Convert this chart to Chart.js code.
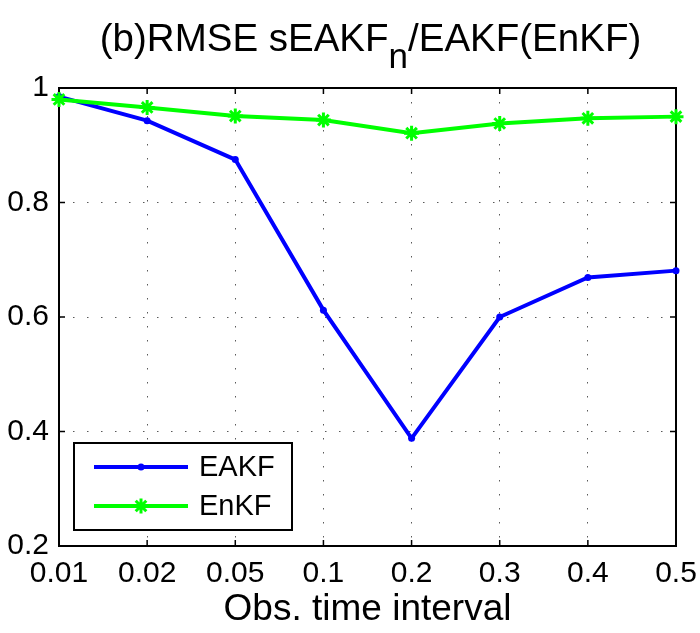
<!DOCTYPE html>
<html><head><meta charset="utf-8">
<script src="https://cdn.jsdelivr.net/npm/chart.js@4/dist/chart.umd.min.js"></script>
<style>html,body{margin:0;padding:0;background:#fff}#wrap{width:700px;height:633px}</style>
</head><body><div id="wrap"><canvas id="c" width="700" height="633"></canvas></div>
<script>
const categories = ['0.01','0.02','0.05','0.1','0.2','0.3','0.4','0.5'];
const eakfValues = [0.985,0.943,0.875,0.612,0.388,0.600,0.669,0.681];
const enkfValues = [0.980,0.966,0.951,0.944,0.921,0.938,0.947,0.950];
const yTickValues = [0.2,0.4,0.6,0.8,1];
const yTickLabels = ['0.2','0.4','0.6','0.8','1'];
const seriesNames = ['EAKF','EnKF'];
const titleMain = '(b)RMSE sEAKF';
const titleSub = 'n';
const titleTail = '/EAKF(EnKF)';
const xTitle = 'Obs. time interval';

const FONT = '"Liberation Sans", Arial, Helvetica, sans-serif';
const BLUE = '#0000ff', GREEN = '#00ff00';

function drawStar(ctx, x, y, r, color, w) {
  ctx.save(); ctx.strokeStyle = color; ctx.lineWidth = w; ctx.beginPath();
  ctx.moveTo(x - r, y); ctx.lineTo(x + r, y);
  ctx.moveTo(x, y - r); ctx.lineTo(x, y + r);
  const d = r * Math.SQRT1_2;
  ctx.moveTo(x - d, y - d); ctx.lineTo(x + d, y + d);
  ctx.moveTo(x - d, y + d); ctx.lineTo(x + d, y - d);
  ctx.stroke(); ctx.restore();
}

const framePlugin = {
  id: 'frame',
  beforeDatasetsDraw(chart) {
    const {ctx, chartArea: a, scales: {x, y}} = chart;
    ctx.save();
    ctx.strokeStyle = '#000'; ctx.lineWidth = 2;
    ctx.strokeRect(a.left, a.top, a.right - a.left, a.bottom - a.top);
    ctx.beginPath();
    const tl = 6;
    x.ticks.forEach((t, i) => {
      const px = x.getPixelForTick(i);
      ctx.moveTo(px, a.bottom); ctx.lineTo(px, a.bottom - tl);
      ctx.moveTo(px, a.top); ctx.lineTo(px, a.top + tl);
    });
    y.ticks.forEach((t, i) => {
      const py = y.getPixelForTick(i);
      ctx.moveTo(a.left, py); ctx.lineTo(a.left + tl, py);
      ctx.moveTo(a.right, py); ctx.lineTo(a.right - tl, py);
    });
    ctx.lineWidth = 1.5; ctx.stroke();
    ctx.restore();
  },
  afterDraw(chart) {
    const {ctx, chartArea: a} = chart;
    ctx.save();
    const mainFont = '38.5px ' + FONT, subFont = '35px ' + FONT;
    ctx.font = mainFont; const w1 = ctx.measureText(titleMain).width; const w3 = ctx.measureText(titleTail).width;
    ctx.font = subFont; const w2 = ctx.measureText(titleSub).width;
    const total = w1 + w2 + w3;
    let tx = (a.left + a.right) / 2 - total / 2 + 3;
    const base = 51;
    ctx.fillStyle = '#000'; ctx.textBaseline = 'alphabetic'; ctx.textAlign = 'left';
    ctx.font = mainFont; ctx.fillText(titleMain, tx, base); tx += w1;
    ctx.font = subFont; ctx.fillText(titleSub, tx, base + 17); tx += w2;
    ctx.font = mainFont; ctx.fillText(titleTail, tx, base);
    const bx = 74, by = 443, bw = 218, bh = 87;
    ctx.fillStyle = '#fff'; ctx.fillRect(bx, by, bw, bh);
    ctx.strokeStyle = '#000'; ctx.lineWidth = 2; ctx.strokeRect(bx, by, bw, bh);
    const rows = [{y: 467, c: BLUE, name: seriesNames[0], m: 'dot'}, {y: 506, c: GREEN, name: seriesNames[1], m: 'star'}];
    rows.forEach(r => {
      ctx.strokeStyle = r.c; ctx.lineWidth = 4; ctx.beginPath(); ctx.moveTo(94, r.y); ctx.lineTo(188, r.y); ctx.stroke();
      if (r.m === 'dot') { ctx.fillStyle = r.c; ctx.beginPath(); ctx.arc(141, r.y, 3.5, 0, Math.PI * 2); ctx.fill(); }
      else drawStar(ctx, 141, r.y, 7.5, r.c, 3);
      ctx.fillStyle = '#000'; ctx.font = '29px ' + FONT; ctx.textBaseline = 'middle'; ctx.textAlign = 'left';
      ctx.fillText(r.name, 199, r.y + 1);
    });
    ctx.restore();
  }
};

new Chart(document.getElementById('c'), {
  type: 'line',
  data: {
    labels: categories,
    datasets: [
      { label: seriesNames[0], data: eakfValues, borderColor: BLUE, backgroundColor: BLUE, borderWidth: 4,
        pointStyle: 'circle', pointRadius: 3.5, pointBorderWidth: 0, pointBackgroundColor: BLUE, tension: 0, order: 1, clip: false },
      { label: seriesNames[1], data: enkfValues, borderColor: GREEN, backgroundColor: GREEN, borderWidth: 4,
        pointStyle: 'star', pointRadius: 7.5, pointBorderWidth: 3, pointBorderColor: GREEN, tension: 0, order: 0, clip: false }
    ]
  },
  options: {
    responsive: false, animation: false, devicePixelRatio: 1,
    layout: { padding: { left: 0, right: 24, top: 88, bottom: 0 } },
    plugins: { legend: { display: false }, title: { display: false }, tooltip: { enabled: false } },
    scales: {
      x: {
        type: 'category', offset: false,
        grid: { color: 'rgba(0,0,0,0.65)', lineWidth: 1, drawTicks: false },
        border: { display: false, dash: [1.5, 12.5] },
        ticks: { color: '#000', font: { family: FONT, size: 30 }, padding: 10, maxRotation: 0, autoSkip: false },
        title: { display: true, text: xTitle, color: '#000', font: { family: FONT, size: 37, lineHeight: 1.2 }, padding: { top: 0, bottom: 1 } },
        afterFit(s) { s.height = 87; s.paddingRight = 0; s.paddingLeft = 0; }
      },
      y: {
        min: 0.2, max: 1,
        afterBuildTicks(s) { s.ticks = yTickValues.map(v => ({ value: v })); },
        grid: { color: 'rgba(0,0,0,0.65)', lineWidth: 1, drawTicks: false },
        border: { display: false, dash: [1.5, 12.5] },
        ticks: { color: '#000', font: { family: FONT, size: 30 }, padding: 10,
          callback(v) { const i = yTickValues.findIndex(t => Math.abs(t - v) < 1e-9); return i >= 0 ? yTickLabels[i] : ''; } },
        afterFit(s) { s.width = 59; }
      }
    }
  },
  plugins: [framePlugin]
});
</script></body></html>
